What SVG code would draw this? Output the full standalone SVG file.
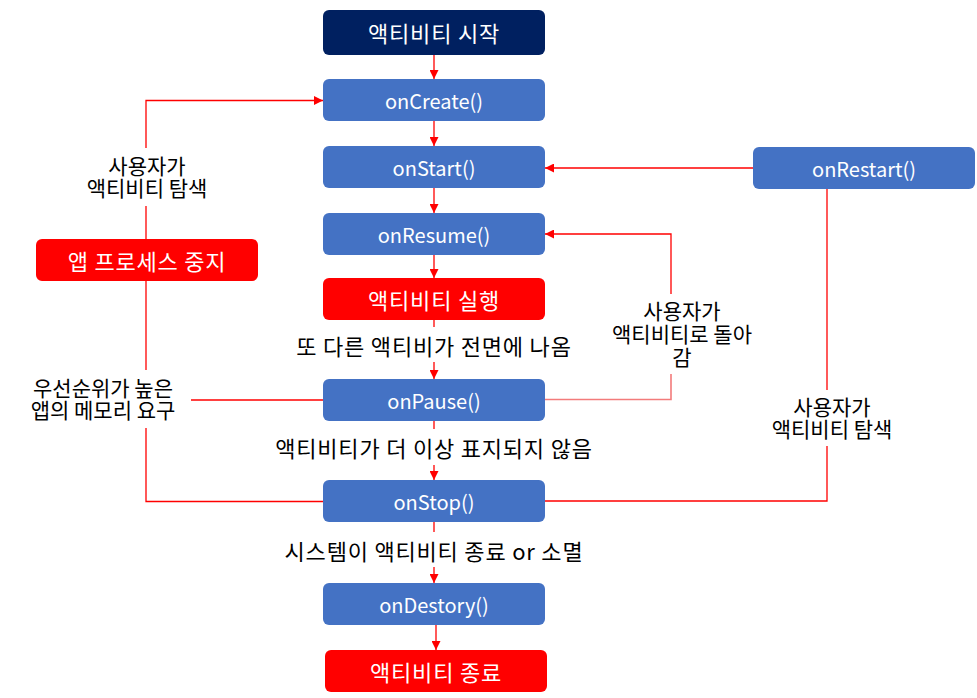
<svg xmlns="http://www.w3.org/2000/svg" width="977" height="698" viewBox="0 0 977 698">
<style>
.box{stroke:none}
.blue{fill:#4472C4}
.red{fill:#FF0000}
.navy{fill:#002060}
.bt{font-family:"Noto Sans CJK KR","Noto Sans",sans-serif;font-size:20px;fill:#FFFFFF;text-anchor:middle;dominant-baseline:central}
.bk{font-family:"Noto Sans CJK KR","Noto Sans",sans-serif;font-size:22px;letter-spacing:0.8px;fill:#FFFFFF;text-anchor:middle;dominant-baseline:central}
.lt{font-family:"Noto Sans CJK KR","Noto Sans",sans-serif;font-size:22px;letter-spacing:0.8px;fill:#000000;text-anchor:middle;dominant-baseline:central}
.st{font-family:"Noto Sans CJK KR","Noto Sans",sans-serif;font-size:21px;fill:#000000;text-anchor:middle;dominant-baseline:central}
.ln{fill:none;stroke:#FF0000;stroke-width:1.3}
.lp{fill:none;stroke:#F37B7B;stroke-width:1.6}
</style>
<defs>
<marker id="ah" viewBox="0 0 10 10" refX="10" refY="5" markerWidth="9" markerHeight="9" markerUnits="userSpaceOnUse" orient="auto">
<path d="M0,0 L10,5 L0,10 Z" fill="#FF0000"/>
</marker>
</defs>
<rect width="977" height="698" fill="#FFFFFF"/>
<g id="connectors">
<line class="ln" x1="434" y1="55" x2="434" y2="79" marker-end="url(#ah)"/>
<line class="ln" x1="434" y1="121" x2="434" y2="146" marker-end="url(#ah)"/>
<line class="ln" x1="434" y1="188" x2="434" y2="213" marker-end="url(#ah)"/>
<line class="ln" x1="434" y1="255" x2="434" y2="278" marker-end="url(#ah)"/>
<line class="ln" x1="434" y1="320" x2="434" y2="327"/>
<line class="ln" x1="434" y1="362" x2="434" y2="379" marker-end="url(#ah)"/>
<line class="ln" x1="434" y1="421" x2="434" y2="429"/>
<line class="ln" x1="434" y1="465" x2="434" y2="480" marker-end="url(#ah)"/>
<line class="ln" x1="434" y1="522" x2="434" y2="532"/>
<line class="ln" x1="434" y1="567" x2="434" y2="583" marker-end="url(#ah)"/>
<line class="ln" x1="436" y1="625" x2="436" y2="650" marker-end="url(#ah)"/>
<!-- left loop -->
<polyline class="ln" points="323,501.5 146,501.5 146,428"/>
<line class="ln" x1="146" y1="370" x2="146" y2="206"/>
<polyline class="ln" points="146,148 146,100.5 323,100.5" marker-end="url(#ah)"/>
<line class="ln" x1="191" y1="400" x2="323" y2="400"/>
<!-- right: onPause to onResume -->
<polyline class="lp" points="545,399.5 671,399.5 671,374"/>
<polyline class="ln" points="671,294 671,234 545,234" marker-end="url(#ah)"/>
<!-- onRestart -->
<line class="ln" x1="753" y1="168" x2="545" y2="168" marker-end="url(#ah)"/>
<line class="ln" x1="827" y1="189" x2="827" y2="390"/>
<polyline class="ln" points="827,446 827,501 545,501"/>
</g>
<g id="n-start"><rect class="box navy" x="323" y="10" width="222" height="45" rx="6"/><text class="bk" x="434" y="32">액티비티 시작</text></g>
<g id="n-oncreate"><rect class="box blue" x="323" y="79" width="222" height="42" rx="6"/><text class="bt" x="434" y="100">onCreate()</text></g>
<g id="n-onstart"><rect class="box blue" x="323" y="146" width="222" height="42" rx="6"/><text class="bt" x="434" y="167">onStart()</text></g>
<g id="n-onresume"><rect class="box blue" x="323" y="213" width="222" height="42" rx="6"/><text class="bt" x="434" y="234">onResume()</text></g>
<g id="n-running"><rect class="box red" x="323" y="278" width="222" height="42" rx="6"/><text class="bk" x="434" y="299">액티비티 실행</text></g>
<g id="n-onpause"><rect class="box blue" x="323" y="379" width="222" height="42" rx="6"/><text class="bt" x="434" y="400">onPause()</text></g>
<g id="n-onstop"><rect class="box blue" x="323" y="480" width="222" height="42" rx="6"/><text class="bt" x="434" y="501">onStop()</text></g>
<g id="n-ondestory"><rect class="box blue" x="323" y="583" width="222" height="42" rx="6"/><text class="bt" x="434" y="604">onDestory()</text></g>
<g id="n-end"><rect class="box red" x="325" y="650" width="222" height="42" rx="6"/><text class="bk" x="436" y="671">액티비티 종료</text></g>
<g id="n-onrestart"><rect class="box blue" x="753" y="147" width="222" height="42" rx="6"/><text class="bt" x="864" y="168">onRestart()</text></g>
<g id="n-kill"><rect class="box red" x="36" y="239" width="222" height="42" rx="6"/><text class="bk" x="147" y="260">앱 프로세스 중지</text></g>
<g id="labels">
<text class="lt" x="434" y="345">또 다른 액티비가 전면에 나옴</text>
<text class="lt" x="434" y="447">액티비티가 더 이상 표지되지 않음</text>
<text class="lt" x="434" y="550">시스템이 액티비티 종료 or 소멸</text>
<text class="st" x="147" y="165">사용자가</text>
<text class="st" x="147" y="187">액티비티 탐색</text>
<text class="st" x="103" y="387">우선순위가 높은</text>
<text class="st" x="103" y="409">앱의 메모리 요구</text>
<text class="st" x="682" y="310">사용자가</text>
<text class="st" x="682" y="333">액티비티로 돌아</text>
<text class="st" x="682" y="356">감</text>
<text class="st" x="832" y="406">사용자가</text>
<text class="st" x="832" y="428">액티비티 탐색</text>
</g>
</svg>
